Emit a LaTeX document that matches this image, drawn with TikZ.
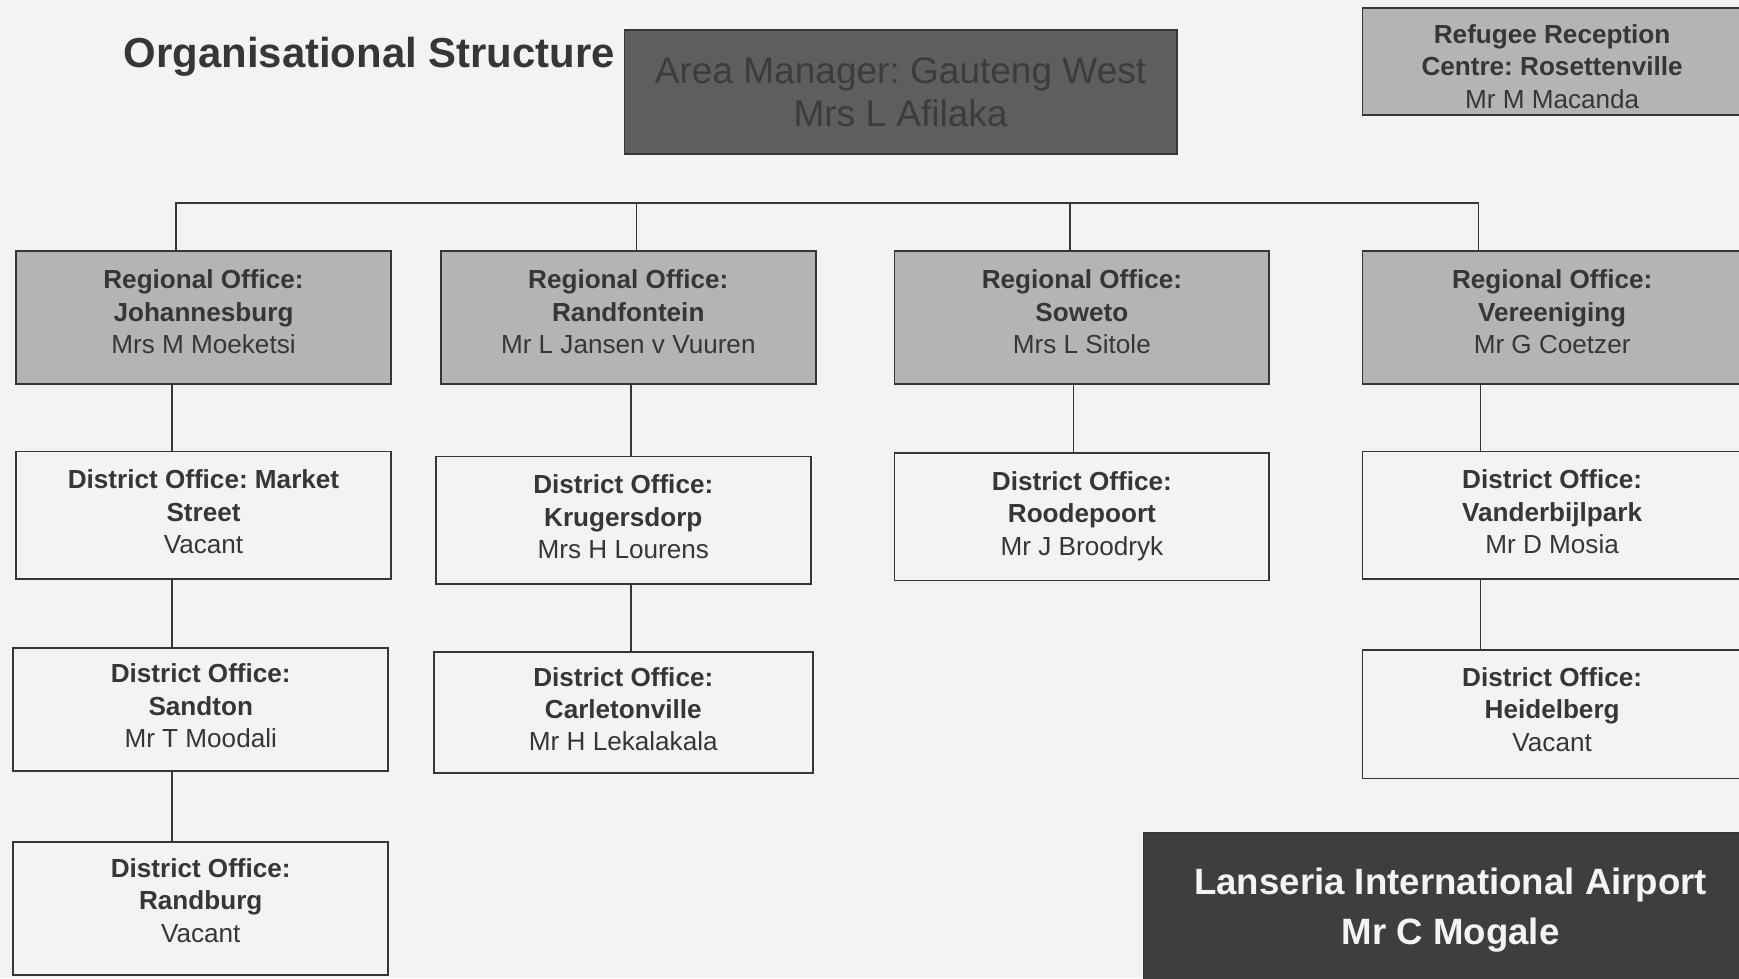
\documentclass[tikz,border=0pt]{standalone}
\usepackage{fontspec}
\setmainfont{Liberation Sans}
\usepackage{tikz}
\usetikzlibrary{positioning}
\frenchspacing

\definecolor{paper}{HTML}{F3F3F3}
\definecolor{ink}{HTML}{363636}
\definecolor{regfill}{HTML}{B4B4B4}
\definecolor{areafill}{HTML}{5E5E5E}
\definecolor{airfill}{HTML}{3E3E3E}

\tikzset{
	office/.style={draw=ink, line width=0.9pt, rectangle, align=center, inner sep=0pt, text=ink, minimum width=6.76cm, font=\fontsize{13.4}{16.6}\selectfont},
	regional/.style={office, fill=regfill, minimum height=2.40cm, text depth=5.6pt},
	district/.style={office, fill=paper, minimum height=2.30cm, text depth=3.5pt},
	link/.style={draw=ink, line width=0.9pt}
}

\begin{document}
\begin{tikzpicture}
		\fill[paper] (0,0) rectangle (31.36,-17.64);
		\useasboundingbox (0,0) rectangle (31.36,-17.64);
		
		\node[text=ink, font=\fontsize{21.5}{26}\selectfont\bfseries] (TITLE) at (6.66,-1.02) {Organisational Structure};
		\node[draw=ink, line width=0.9pt, rectangle, fill=areafill, text=ink!85!areafill, align=center, minimum width=9.96cm, minimum height=2.24cm, font=\fontsize{19}{22.2}\selectfont] (AREA) at (16.24,-1.66) {Area Manager: Gauteng West\\Mrs L Afilaka};
		
		\node[regional] (REG1) at (3.67,-5.72) {\textbf{Regional Office:}\\\textbf{Johannesburg}\\Mrs M Moeketsi};
		\node[regional, right of=REG1, node distance=7.66cm] (REG2) {\textbf{Regional Office:}\\\textbf{Randfontein}\\Mr L Jansen v Vuuren};
		\node[regional, right of=REG2, node distance=8.18cm] (REG3) {\textbf{Regional Office:}\\\textbf{Soweto}\\Mrs L Sitole};
		\node[regional, right of=REG3, node distance=8.48cm, minimum width=6.84cm] (REG4) {\textbf{Regional Office:}\\\textbf{Vereeniging}\\Mr G Coetzer};
		
		\node[office, fill=regfill, above of=REG4, node distance=4.61cm, minimum width=6.84cm, minimum height=1.94cm, text depth=0pt, text height=48pt] (REF) {\textbf{Refugee Reception}\\\textbf{Centre: Rosettenville}\\Mr M Macanda};
		
		\node[district, below of=REG1, node distance=3.57cm] (DIST1) {\textbf{District Office: Market}\\\textbf{Street}\\Vacant};
		\node[district, below of=REG2, node distance=3.66cm, xshift=-0.09cm] (DIST2) {\textbf{District Office:}\\\textbf{Krugersdorp}\\Mrs H Lourens};
		\node[district, below of=REG3, node distance=3.60cm] (DIST3) {\textbf{District Office:}\\\textbf{Roodepoort}\\Mr J Broodryk};
		\node[district, below of=REG4, node distance=3.57cm, minimum width=6.84cm] (DIST4) {\textbf{District Office:}\\\textbf{Vanderbijlpark}\\Mr D Mosia};
		
		\node[district, below of=DIST1, node distance=3.50cm, xshift=-0.05cm, minimum height=2.22cm] (DIST5) {\textbf{District Office:}\\\textbf{Sandton}\\Mr T Moodali};
		\node[district, below of=DIST2, node distance=3.47cm, minimum width=6.84cm, minimum height=2.18cm] (DIST6) {\textbf{District Office:}\\\textbf{Carletonville}\\Mr H Lekalakala};
		\node[district, below of=DIST4, node distance=3.59cm, minimum width=6.84cm, minimum height=2.32cm, text depth=5pt] (DIST7) {\textbf{District Office:}\\\textbf{Heidelberg}\\Vacant};
		\node[district, below of=DIST5, node distance=3.59cm, minimum height=2.40cm, text depth=8pt] (DIST8) {\textbf{District Office:}\\\textbf{Randburg}\\Vacant};
		
		\node[draw=ink, line width=0.9pt, rectangle, fill=airfill, text=paper!90!white, align=center, minimum width=11.08cm, minimum height=2.78cm, font=\fontsize{18.8}{25.5}\selectfont\bfseries] (AIR) at (26.16,-16.41) {Lanseria International Airport\\Mr C Mogale};
		
		\coordinate (BUS) at (0,-3.66);
		\coordinate (C1) at (3.10,0);
		\coordinate (C2) at (11.38,0);
		\coordinate (C3) at (19.36,0);
		\coordinate (C4) at (26.70,0);
		
		\draw[link] ([xshift=-0.49cm]REG1.north) |- ([xshift=-1.33cm]REG4.north |- BUS) -- ([xshift=-1.33cm]REG4.north);
		\draw[link] ([xshift=0.15cm]REG2.north) -- ([xshift=0.15cm]REG2.north |- BUS);
		\draw[link] ([xshift=-0.21cm]REG3.north) -- ([xshift=-0.21cm]REG3.north |- BUS);
		
		\draw[link] (REG1.south -| C1) -- (DIST1.north -| C1);
		\draw[link] (DIST1.south -| C1) -- (DIST5.north -| C1);
		\draw[link] (DIST5.south -| C1) -- (DIST8.north -| C1);
		\draw[link] (REG2.south -| C2) -- (DIST2.north -| C2);
		\draw[link] (DIST2.south -| C2) -- (DIST6.north -| C2);
		\draw[link] (REG3.south -| C3) -- (DIST3.north -| C3);
		\draw[link] (REG4.south -| C4) -- (DIST4.north -| C4);
		\draw[link] (DIST4.south -| C4) -- (DIST7.north -| C4);
		\end{tikzpicture}
\end{document}
